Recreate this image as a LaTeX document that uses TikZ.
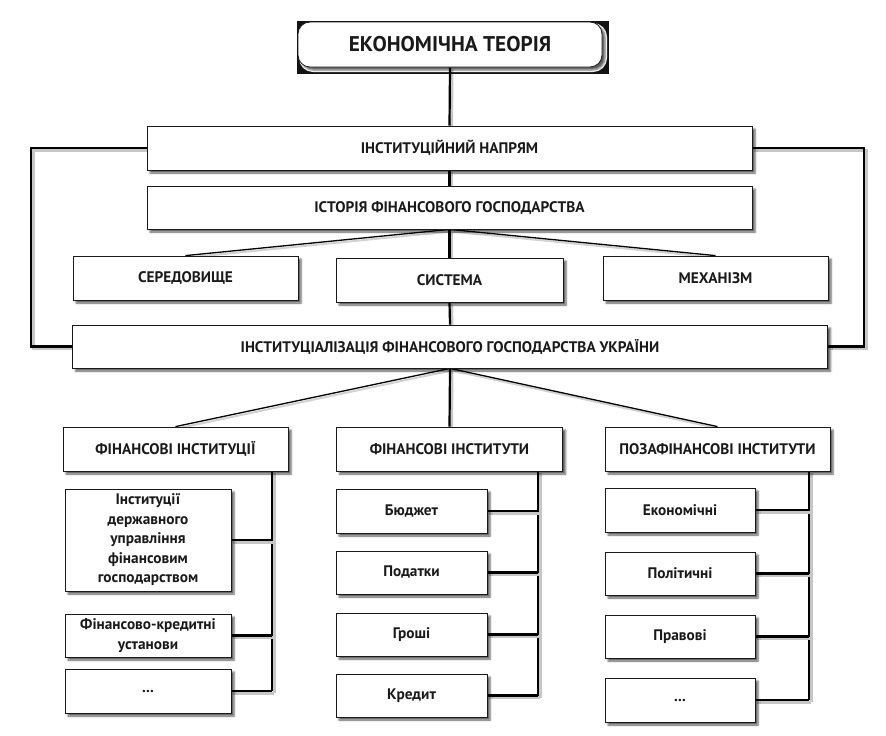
\documentclass[tikz,border=0pt]{standalone}
\usepackage{fontspec}
\setmainfont{PT Sans}
\usetikzlibrary{shadows.blur,backgrounds}
\definecolor{bggray}{HTML}{ECECEC}
\definecolor{ink}{HTML}{1A1A1A}
\pgfdeclarelayer{panel}
\pgfsetlayers{panel,background,main}
\tikzset{
  box/.style={draw=ink, line width=0.8pt, fill=white, inner sep=2pt, align=center,
    font=\bfseries\fontsize{15.3}{19.5}\selectfont, text=ink,
    blur shadow={shadow xshift=3pt, shadow yshift=-3pt, shadow blur radius=2pt, shadow opacity=65}},
  conn/.style={draw=black, line width=2.2pt,
    preaction={draw=gray!45, line width=3pt, transform canvas={shift={(2pt,-2pt)}}}},
  fan/.style={draw=black, line width=1.3pt,
    preaction={draw=gray!35, line width=2pt, transform canvas={shift={(1.5pt,-2pt)}}}},
  bracket/.style={conn, line width=2.4pt},
}
\begin{document}
\begin{tikzpicture}[x=1pt, y=-1pt]
  % page and panel
  \begin{pgfonlayer}{panel}
    \fill[white] (0,0) rectangle (886,736);
    \fill[bggray] (6,6) rectangle (886,735);
  \end{pgfonlayer}
  \useasboundingbox (0,0) rectangle (886,736);

  % upper part
  \node[box, rounded corners=12pt, minimum width=304pt, minimum height=45pt,
        font=\bfseries\fontsize{21.3}{24}\selectfont] (top) at (450,44.5) {ЕКОНОМІЧНА ТЕОРІЯ};
  \node[box, minimum width=605pt, minimum height=44pt] (napr) at (449.5,148) {ІНСТИТУЦІЙНИЙ НАПРЯМ};
  \node[box, minimum width=605pt, minimum height=43pt] (ist) at (449.5,207.5) {ІСТОРІЯ ФІНАНСОВОГО ГОСПОДАРСТВА};
  \node[box, minimum width=225pt, minimum height=44pt] (ser) at (185.5,278) {СЕРЕДОВИЩЕ};
  \node[box, minimum width=227pt, minimum height=44pt] (sys) at (449.5,280) {СИСТЕМА};
  \node[box, minimum width=225pt, minimum height=44pt] (mech) at (715.5,278) {МЕХАНІЗМ};
  \node[box, minimum width=755pt, minimum height=43pt] (inst) at (450,346.5) {ІНСТИТУЦІАЛІЗАЦІЯ ФІНАНСОВОГО ГОСПОДАРСТВА УКРАЇНИ};

  % three branches
  \node[box, minimum width=225pt, minimum height=44pt] (fa) at (175.5,449) {ФІНАНСОВІ ІНСТИТУЦІЇ};
  \node[box, minimum width=226pt, minimum height=44pt] (fb) at (449.5,449) {ФІНАНСОВІ ІНСТИТУТИ};
  \node[box, minimum width=225pt, minimum height=44pt] (fc) at (717.5,449) {ПОЗАФІНАНСОВІ ІНСТИТУТИ};

  \node[box, minimum width=166pt, minimum height=102pt] (a1) at (148,540) {Інституції\\державного\\управління\\фінансовим\\господарством};
  \node[box, minimum width=166pt, minimum height=43pt] (a2) at (148,635.5) {Фінансово-кредитні\\установи};
  \node[box, minimum width=166pt, minimum height=44pt] (a3) at (148,691) {...};

  \node[box, minimum width=151pt, minimum height=44pt] (b1) at (411.5,511) {Бюджет};
  \node[box, minimum width=151pt, minimum height=43pt] (b2) at (411.5,572.5) {Податки};
  \node[box, minimum width=151pt, minimum height=43pt] (b3) at (411.5,634.5) {Гроші};
  \node[box, minimum width=151pt, minimum height=43pt] (b4) at (411.5,695.5) {Кредит};

  \node[box, minimum width=150pt, minimum height=44pt] (c1) at (680,510) {Економічні};
  \node[box, minimum width=150pt, minimum height=43pt] (c2) at (680,573.5) {Політичні};
  \node[box, minimum width=150pt, minimum height=43pt] (c3) at (680,636.5) {Правові};
  \node[box, minimum width=150pt, minimum height=44pt] (c4) at (680,700) {...};

  % spine positions
  \coordinate (bl) at (31,0);
  \coordinate (br) at (864,0);
  \coordinate (sa) at (272,0);
  \coordinate (sb) at (538,0);
  \coordinate (sc) at (809,0);

  \begin{pgfonlayer}{background}
    \draw[conn] (top.south) -- (napr.north);
    \draw[conn] (napr.south) -- (ist.north);
    \draw[fan] (ist.south) -- (ser.north);
    \draw[conn] (ist.south) -- (sys.north);
    \draw[fan] (ist.south) -- (mech.north);
    \draw[conn] (sys.south) -- (inst.north);
    \draw[bracket] (napr.west) -- (napr.west -| bl) -- (inst.west -| bl) -- (inst.west);
    \draw[bracket] (napr.east) -- (napr.east -| br) -- (inst.east -| br) -- (inst.east);
    \draw[fan] (inst.south) -- (fa.north);
    \draw[conn] (inst.south) -- (fb.north);
    \draw[fan] (inst.south) -- (fc.north);

    \draw[conn] (fa.south -| sa) -- (a3.east -| sa);
    \foreach \n in {a1,a2,a3} \draw[conn] (\n.east) -- (\n.east -| sa);
    \draw[conn] (fb.south -| sb) -- (b4.east -| sb);
    \foreach \n in {b1,b2,b3,b4} \draw[conn] (\n.east) -- (\n.east -| sb);
    \draw[conn] (fc.south -| sc) -- (c4.east -| sc);
    \foreach \n in {c1,c2,c3,c4} \draw[conn] (\n.east) -- (\n.east -| sc);
  \end{pgfonlayer}
\end{tikzpicture}
\end{document}
